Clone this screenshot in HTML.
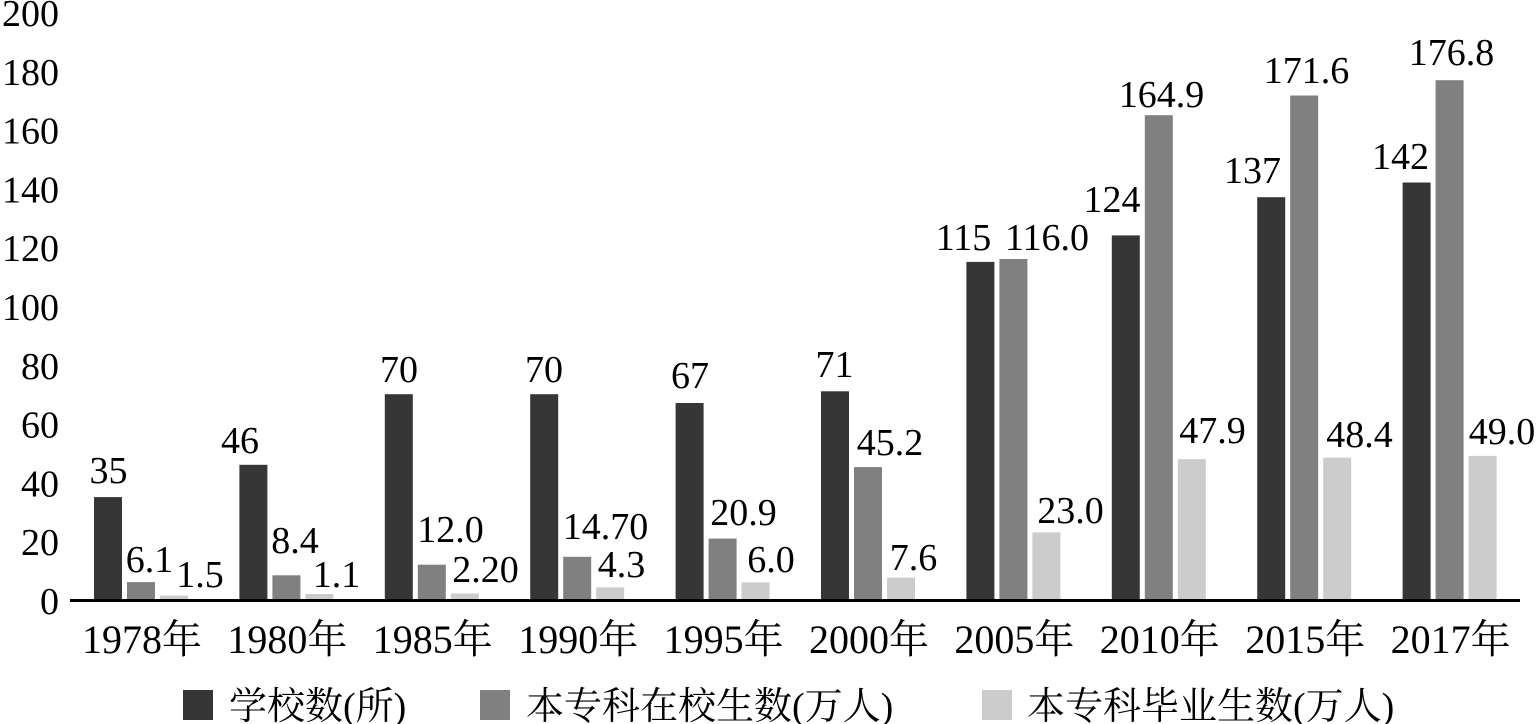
<!DOCTYPE html>
<html>
<head>
<meta charset="utf-8">
<style>
html,body{margin:0;padding:0;background:#fff;}
svg{display:block;}
text{font-family:"Liberation Serif","Noto Serif CJK SC",serif;fill:#000;}
</style>
</head>
<body>
<svg width="1536" height="724" viewBox="0 0 1536 724" xmlns="http://www.w3.org/2000/svg">
<rect width="1536" height="724" fill="#fff"/>
<g font-size="38" text-anchor="end">
<text x="59" y="614">0</text>
<text x="59" y="555.2">20</text>
<text x="59" y="496.4">40</text>
<text x="59" y="437.6">60</text>
<text x="59" y="378.8">80</text>
<text x="59" y="320">100</text>
<text x="59" y="261.2">120</text>
<text x="59" y="202.4">140</text>
<text x="59" y="143.6">160</text>
<text x="59" y="84.8">180</text>
<text x="59" y="26">200</text>
</g>
<g>
<rect x="94" y="497.1" width="28" height="102.9" fill="#363636"/>
<rect x="127" y="582.1" width="28" height="17.9" fill="#808080"/>
<rect x="160" y="595.6" width="28" height="4.4" fill="#cccccc"/>
<rect x="239.4" y="464.8" width="28" height="135.2" fill="#363636"/>
<rect x="272.4" y="575.3" width="28" height="24.7" fill="#808080"/>
<rect x="305.4" y="594" width="28" height="6" fill="#cccccc"/>
<rect x="384.8" y="394.2" width="28" height="205.8" fill="#363636"/>
<rect x="417.8" y="564.7" width="28" height="35.3" fill="#808080"/>
<rect x="450.8" y="593.5" width="28" height="6.5" fill="#cccccc"/>
<rect x="530.2" y="394.2" width="28" height="205.8" fill="#363636"/>
<rect x="563.2" y="556.8" width="28" height="43.2" fill="#808080"/>
<rect x="596.2" y="587.4" width="28" height="12.6" fill="#cccccc"/>
<rect x="675.6" y="403" width="28" height="197" fill="#363636"/>
<rect x="708.6" y="538.6" width="28" height="61.4" fill="#808080"/>
<rect x="741.6" y="582.4" width="28" height="17.6" fill="#cccccc"/>
<rect x="821" y="391.3" width="28" height="208.7" fill="#363636"/>
<rect x="854" y="467.1" width="28" height="132.9" fill="#808080"/>
<rect x="887" y="577.7" width="28" height="22.3" fill="#cccccc"/>
<rect x="966.4" y="261.9" width="28" height="338.1" fill="#363636"/>
<rect x="999.4" y="259" width="28" height="341" fill="#808080"/>
<rect x="1032.4" y="532.4" width="28" height="67.6" fill="#cccccc"/>
<rect x="1111.8" y="235.4" width="28" height="364.6" fill="#363636"/>
<rect x="1144.8" y="115.2" width="28" height="484.8" fill="#808080"/>
<rect x="1177.8" y="459.2" width="28" height="140.8" fill="#cccccc"/>
<rect x="1257.2" y="197.2" width="28" height="402.8" fill="#363636"/>
<rect x="1290.2" y="95.5" width="28" height="504.5" fill="#808080"/>
<rect x="1323.2" y="457.7" width="28" height="142.3" fill="#cccccc"/>
<rect x="1402.6" y="182.5" width="28" height="417.5" fill="#363636"/>
<rect x="1435.6" y="80.2" width="28" height="519.8" fill="#808080"/>
<rect x="1468.6" y="455.9" width="28" height="144.1" fill="#cccccc"/>
</g>
<rect x="70" y="599" width="1450" height="3" fill="#000"/>
<g font-size="38" text-anchor="middle">
<text x="108.5" y="483">35</text>
<text x="149.5" y="572">6.1</text>
<text x="200" y="587">1.5</text>
<text x="240" y="453">46</text>
<text x="295" y="553">8.4</text>
<text x="336.5" y="587">1.1</text>
<text x="399" y="382">70</text>
<text x="450.5" y="542">12.0</text>
<text x="485.5" y="582">2.20</text>
<text x="544" y="382">70</text>
<text x="605.5" y="539">14.70</text>
<text x="621.5" y="577">4.3</text>
<text x="690" y="388">67</text>
<text x="743.5" y="525">20.9</text>
<text x="771" y="572">6.0</text>
<text x="834.5" y="377">71</text>
<text x="890" y="455">45.2</text>
<text x="913.5" y="570">7.6</text>
<text x="963.5" y="250">115</text>
<text x="1047" y="250">116.0</text>
<text x="1070.5" y="523">23.0</text>
<text x="1112" y="212">124</text>
<text x="1161.5" y="107">164.9</text>
<text x="1212.5" y="443">47.9</text>
<text x="1252.5" y="183">137</text>
<text x="1306.5" y="83">171.6</text>
<text x="1359.5" y="447">48.4</text>
<text x="1400.5" y="169">142</text>
<text x="1451.5" y="65">176.8</text>
<text x="1502" y="444">49.0</text>
</g>
<g font-size="40" text-anchor="middle">
<text x="142" y="653">1978年</text>
<text x="287.4" y="653">1980年</text>
<text x="432.8" y="653">1985年</text>
<text x="578.2" y="653">1990年</text>
<text x="723.6" y="653">1995年</text>
<text x="869" y="653">2000年</text>
<text x="1014.4" y="653">2005年</text>
<text x="1159.8" y="653">2010年</text>
<text x="1305.2" y="653">2015年</text>
<text x="1450.6" y="653">2017年</text>
</g>
<rect x="183" y="690" width="30" height="30" fill="#363636"/>
<text x="229" y="719" font-size="38">学校数(所)</text>
<rect x="480" y="690" width="30" height="30" fill="#808080"/>
<text x="526" y="719" font-size="38">本专科在校生数(万人)</text>
<rect x="982" y="690" width="30" height="30" fill="#cccccc"/>
<text x="1027" y="719" font-size="38">本专科毕业生数(万人)</text>
</svg>
</body>
</html>
